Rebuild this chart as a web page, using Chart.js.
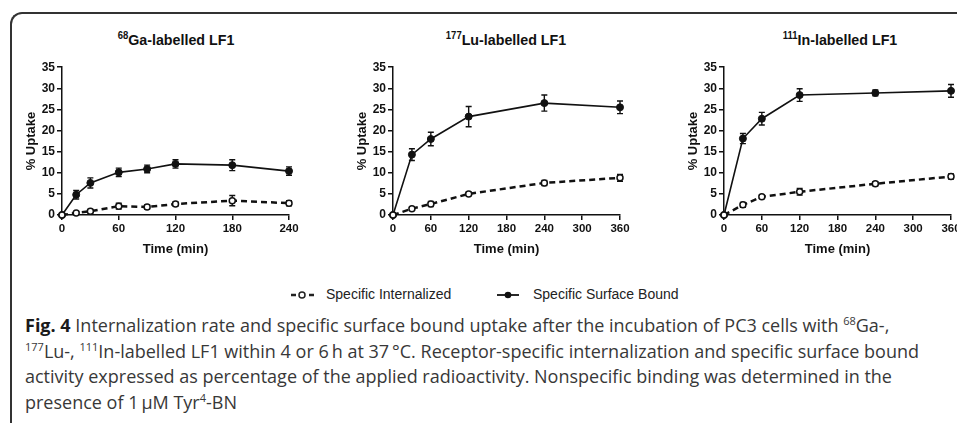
<!DOCTYPE html>
<html>
<head>
<meta charset="utf-8">
<script src="https://cdn.jsdelivr.net/npm/chart.js@4.4.1/dist/chart.umd.min.js"></script>
<style>
  html, body { margin: 0; padding: 0; background: #fff; }
  body { width: 957px; height: 423px; overflow: hidden; position: relative; font-family: "Liberation Sans", Arial, sans-serif; }
  .frame { position: absolute; left: 10px; top: 12px; width: 1000px; height: 500px;
           border-top: 2px solid #333; border-left: 2px solid #333; border-top-left-radius: 12px; }
  .panel { position: absolute; top: 58px; width: 281px; height: 202px; }
  .ptitle { position: absolute; top: 31px; width: 200px; text-align: center; font-weight: bold;
            font-size: 15px; color: #111; transform: scaleX(0.95); white-space: nowrap; }
  .ptitle sup { font-size: 10px; vertical-align: 6px; line-height: 0; }
  .legend { position: absolute; top: 286px; font-size: 14px; color: #222; white-space: nowrap; }
  .legend svg { position: absolute; top: 4px; }
  .caption { position: absolute; left: 25px; top: 313px; font-family: "Open Sans", sans-serif; font-size: 18px;
             line-height: 25.7px; color: #383838; white-space: nowrap; }
  .caption b { color: #1a1a1a; }
  .caption sup { font-size: 11px; vertical-align: 7px; line-height: 0; }
</style>
</head>
<body>
<div class="frame"></div>

<div class="ptitle" style="left:76px"><sup>68</sup>Ga-labelled LF1</div>
<div class="ptitle" style="left:406px"><sup>177</sup>Lu-labelled LF1</div>
<div class="ptitle" style="left:740px"><sup>111</sup>In-labelled LF1</div>

<div class="panel" style="left:20px"><canvas id="ga"></canvas></div>
<div class="panel" style="left:351px"><canvas id="lu"></canvas></div>
<div class="panel" style="left:682px"><canvas id="in"></canvas></div>

<div class="legend" style="left:291px">
  <svg width="24" height="10" style="left:0">
    <line x1="0" y1="5" x2="24" y2="5" stroke="#222" stroke-width="2.5" stroke-dasharray="5,4"/>
    <circle cx="11" cy="5" r="3" fill="#fff" stroke="#222" stroke-width="1.5"/>
  </svg>
  <span style="position:absolute;left:35px">Specific Internalized</span>
</div>
<div class="legend" style="left:497px">
  <svg width="22" height="10" style="left:0">
    <line x1="0" y1="5" x2="22" y2="5" stroke="#111" stroke-width="1.8"/>
    <circle cx="11" cy="5" r="3.3" fill="#111"/>
  </svg>
  <span style="position:absolute;left:36px">Specific Surface Bound</span>
</div>

<div class="caption">
  <div><b>Fig. 4</b> Internalization rate and specific surface bound uptake after the incubation of PC3 cells with <sup>68</sup>Ga-,</div>
  <div><sup>177</sup>Lu-, <sup>111</sup>In-labelled LF1 within 4 or 6&#8201;h at 37&#8201;°C. Receptor-specific internalization and specific surface bound</div>
  <div>activity expressed as percentage of the applied radioactivity. Nonspecific binding was determined in the</div>
  <div>presence of 1&#8201;µM Tyr<sup>4</sup>-BN</div>
</div>

<script>
// 68Ga panel
const gaTimes = [0, 15, 30, 60, 90, 120, 180, 240];
const gaSurface = [0, 4.8, 7.6, 10.1, 10.9, 12.1, 11.8, 10.4];
const gaSurfaceErr = [0, 1.0, 1.2, 1.0, 0.9, 1.0, 1.3, 1.0];
const gaInternal = [0, 0.5, 0.9, 2.1, 1.9, 2.6, 3.4, 2.8];
const gaInternalErr = [0, 0.2, 0.4, 0.7, 0.5, 0.5, 1.2, 0.6];

// 177Lu panel
const luTimes = [0, 30, 60, 120, 240, 360];
const luSurface = [0, 14.3, 18.0, 23.3, 26.5, 25.5];
const luSurfaceErr = [0, 1.4, 1.6, 2.4, 1.9, 1.5];
const luInternal = [0, 1.5, 2.6, 5.0, 7.6, 8.8];
const luInternalErr = [0, 0.3, 0.6, 0.4, 0.6, 0.8];

// 111In panel
const inTimes = [0, 30, 60, 120, 240, 360];
const inSurface = [0, 18.1, 22.8, 28.4, 28.9, 29.4];
const inSurfaceErr = [0, 1.2, 1.5, 1.5, 0.7, 1.5];
const inInternal = [0, 2.4, 4.3, 5.5, 7.4, 9.1];
const inInternalErr = [0, 0.6, 0.4, 0.8, 0.5, 0.6];

const yTicks = [0, 5, 10, 15, 20, 25, 30, 35];

// error bars drawn under the points, through the library's scales
const errorBars = {
  id: 'errorBars',
  beforeDatasetsDraw(chart) {
    const ctx = chart.ctx;
    const y = chart.scales.y;
    chart.data.datasets.forEach((ds, i) => {
      const meta = chart.getDatasetMeta(i);
      meta.data.forEach((pt, j) => {
        const e = ds.errors[j];
        if (!e) return;
        const v = ds.data[j].y;
        const top = y.getPixelForValue(v + e);
        const bot = y.getPixelForValue(v - e);
        ctx.save();
        ctx.strokeStyle = '#111';
        ctx.lineWidth = 1.4;
        ctx.beginPath();
        ctx.moveTo(pt.x, top); ctx.lineTo(pt.x, bot);
        ctx.moveTo(pt.x - 3, top); ctx.lineTo(pt.x + 3, top);
        ctx.moveTo(pt.x - 3, bot); ctx.lineTo(pt.x + 3, bot);
        ctx.stroke();
        ctx.restore();
      });
    });
  }
};

function toXY(xs, ys) {
  return xs.map((x, i) => ({ x: x, y: ys[i] }));
}

function makeChart(id, times, surf, surfErr, intern, internErr, xMax) {
  new Chart(document.getElementById(id), {
    type: 'line',
    data: {
      datasets: [
        {
          label: 'Specific Internalized',
          data: toXY(times, intern),
          errors: internErr,
          borderColor: '#111',
          borderWidth: 2.5,
          borderDash: [6, 4],
          pointRadius: 3,
          pointBackgroundColor: '#fff',
          pointBorderColor: '#111',
          pointBorderWidth: 1.5,
          clip: false,
        },
        {
          label: 'Specific Surface Bound',
          data: toXY(times, surf),
          errors: surfErr,
          borderColor: '#111',
          borderWidth: 1.6,
          pointRadius: 3.5,
          pointBackgroundColor: '#111',
          pointBorderColor: '#111',
          pointBorderWidth: 1,
          clip: false,
        },
      ],
    },
    options: {
      responsive: true,
      maintainAspectRatio: false,
      animation: false,
      layout: { padding: { top: 6, right: 12, left: 0, bottom: 0 } },
      plugins: { legend: { display: false }, tooltip: { enabled: false } },
      scales: {
        x: {
          type: 'linear',
          min: 0,
          max: xMax,
          afterFit: s => { s.height = 45; },
          ticks: { stepSize: 60, color: '#111', font: { family: 'Liberation Sans', weight: 'bold', size: 11.5 }, padding: 2, maxRotation: 0 },
          grid: { drawOnChartArea: false, drawTicks: true, tickLength: 5, color: '#111', lineWidth: 1.5 },
          border: { display: true, color: '#111', width: 1.5 },
          title: { display: true, text: 'Time (min)', color: '#111', font: { family: 'Liberation Sans', weight: 'bold', size: 13 }, padding: { top: 0, bottom: 3 } },
        },
        y: {
          min: 0,
          max: 35,
          afterFit: s => { s.width = 42; },
          afterBuildTicks: s => { s.ticks = yTicks.map(v => ({ value: v })); },
          ticks: { color: '#111', font: { family: 'Liberation Sans', weight: 'bold', size: 12 }, padding: 2 },
          grid: { drawOnChartArea: false, drawTicks: true, tickLength: 5, color: '#111', lineWidth: 1.5 },
          border: { display: true, color: '#111', width: 1.5 },
          title: { display: true, text: '% Uptake', color: '#111', font: { family: 'Liberation Sans', weight: 'bold', size: 13 }, padding: { top: 4, bottom: 0 } },
        },
      },
    },
    plugins: [errorBars],
  });
}

makeChart('ga', gaTimes, gaSurface, gaSurfaceErr, gaInternal, gaInternalErr, 240);
makeChart('lu', luTimes, luSurface, luSurfaceErr, luInternal, luInternalErr, 360);
makeChart('in', inTimes, inSurface, inSurfaceErr, inInternal, inInternalErr, 360);
</script>
</body>
</html>
